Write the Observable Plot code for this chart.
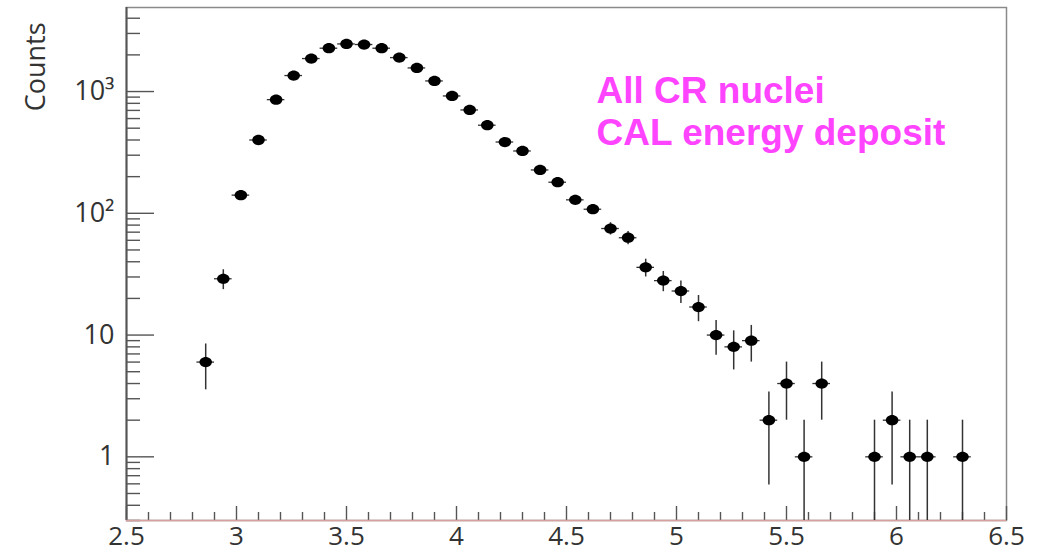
<!DOCTYPE html>
<html>
<head>
<meta charset="utf-8">
<script src="https://cdn.jsdelivr.net/npm/d3@7"></script>
<script src="https://cdn.jsdelivr.net/npm/@observablehq/plot@0.6"></script>
<style>
  html, body { margin: 0; padding: 0; background: #ffffff; }
  #chart { width: 1042px; height: 553px; }
</style>
</head>
<body>
<div id="chart"></div>
<script>
// ---- data ----
const xDomain = [2.5, 6.5];
const yDomain = [0.3, 4900];

const energy = [2.86, 2.94, 3.02, 3.10, 3.18, 3.26, 3.34, 3.42, 3.50, 3.58,
                3.66, 3.74, 3.82, 3.90, 3.98, 4.06, 4.14, 4.22, 4.30, 4.38,
                4.46, 4.54, 4.62, 4.70, 4.78, 4.86, 4.94, 5.02, 5.10, 5.18,
                5.26, 5.34, 5.42, 5.50, 5.58, 5.66, 5.90, 5.98, 6.06, 6.14, 6.30];
const counts = [6, 29, 141, 400, 858, 1353, 1866, 2269, 2460, 2433,
                2269, 1900, 1563, 1222, 920, 706, 529, 385, 325, 227,
                180, 129, 108, 75, 63, 36, 28, 23, 17, 10,
                8, 9, 2, 4, 1, 4, 1, 2, 1, 1, 1];
const binHalfWidth = 0.04;

const xTicks = [2.5, 3, 3.5, 4, 4.5, 5, 5.5, 6, 6.5];
const xTickLabels = ["2.5", "3", "3.5", "4", "4.5", "5", "5.5", "6", "6.5"];
const yTicks = [1, 10, 100, 1000];
const yTickLabels = ["1", "10", "10²", "10³"];
const yLabel = "Counts";
const annotation = ["All CR nuclei", "CAL energy deposit"];

// ---- build ----
const data = energy.map((e, i) => ({e, n: counts[i]}));
const xMinor = d3.ticks(xDomain[0], xDomain[1], 40)
  .filter(v => !xTicks.some(t => Math.abs(t - v) < 1e-9));
const yMinor = d3.scaleLog().domain(yDomain).ticks()
  .filter(v => !yTicks.some(t => Math.abs(t - v) < 1e-9));

// ellipse marker (ROOT full circle as rendered in the reference)
const ellipse = {
  draw(ctx, size) {
    const r = Math.sqrt(size / Math.PI);
    const rx = r * 1.1, ry = r * 0.9, k = 0.5523;
    ctx.moveTo(rx, 0);
    ctx.bezierCurveTo(rx, ry * k, rx * k, ry, 0, ry);
    ctx.bezierCurveTo(-rx * k, ry, -rx, ry * k, -rx, 0);
    ctx.bezierCurveTo(-rx, -ry * k, -rx * k, -ry, 0, -ry);
    ctx.bezierCurveTo(rx * k, -ry, rx, -ry * k, rx, 0);
    ctx.closePath();
  }
};

const tickColor = "#555";

const chart = Plot.plot({
  width: 1042,
  height: 553,
  marginLeft: 126,
  marginRight: 36,
  marginTop: 7,
  marginBottom: 33,
  x: {domain: xDomain},
  y: {type: "log", domain: yDomain},
  style: {fontFamily: "'Open Sans', sans-serif", fontSize: "26px", color: "#333", background: "#ffffff"},
  marks: [
    Plot.frame({stroke: "#8a8a8a", strokeWidth: 1.5}),
    Plot.ruleX([xDomain[0]], {stroke: "#555", strokeWidth: 2}),
    // y axis ticks (inside) and labels
    Plot.axisY({ticks: yMinor, tickSize: -14, fill: "none", stroke: tickColor, strokeWidth: 1.4, label: null}),
    Plot.axisY({ticks: yTicks, tickSize: -28, fill: "none", stroke: tickColor, strokeWidth: 1.4, label: null}),
    Plot.axisY({ticks: yTicks, tickSize: 0, tickPadding: 12, label: null, fill: "#333", fontSize: 27,
                tickFormat: d => yTickLabels[yTicks.indexOf(d)]}),
    // x axis ticks (inside) and labels
    Plot.axisX({ticks: xMinor, tickSize: -8, fill: "none", stroke: tickColor, strokeWidth: 1.4, label: null}),
    Plot.axisX({ticks: xTicks, tickSize: -14, fill: "none", stroke: tickColor, strokeWidth: 1.4, label: null}),
    Plot.axisX({ticks: xTicks, tickSize: 0, tickPadding: 6, label: null, fill: "#333", fontSize: 26,
                tickFormat: d => xTickLabels[xTicks.indexOf(d)]}),
    Plot.ruleY([yDomain[0]], {stroke: "#d9a0a0", strokeWidth: 1.5}),
    // error bars
    Plot.ruleX(data, {x: "e", y1: d => Math.max(d.n - Math.sqrt(d.n), yDomain[0]),
                      y2: d => d.n + Math.sqrt(d.n), stroke: "#333", strokeWidth: 1.5}),
    Plot.ruleY(data, {y: "n", x1: d => d.e - binHalfWidth, x2: d => d.e + binHalfWidth,
                      stroke: "#333", strokeWidth: 1.3}),
    // points
    Plot.dot(data, {x: "e", y: "n", r: 5.7, symbol: ellipse, fill: "black", stroke: "none"}),
    // y label
    Plot.text([yLabel], {text: d => d, frameAnchor: "top-left", rotate: -90, textAnchor: "end",
                         lineAnchor: "middle", dx: -90, dy: 15, fontSize: 27, fill: "#333"}),
    // annotation
    Plot.text([annotation.join("\n")], {text: d => d, frameAnchor: "top-left", dx: 470, dy: 66,
                         textAnchor: "start", lineAnchor: "top", lineHeight: 1.135,
                         fontSize: 37, fontWeight: "bold",
                         fontFamily: "'Liberation Sans', Arial, sans-serif", fill: "#ff44ff"})
  ]
});
document.getElementById("chart").appendChild(chart);
</script>
</body>
</html>
